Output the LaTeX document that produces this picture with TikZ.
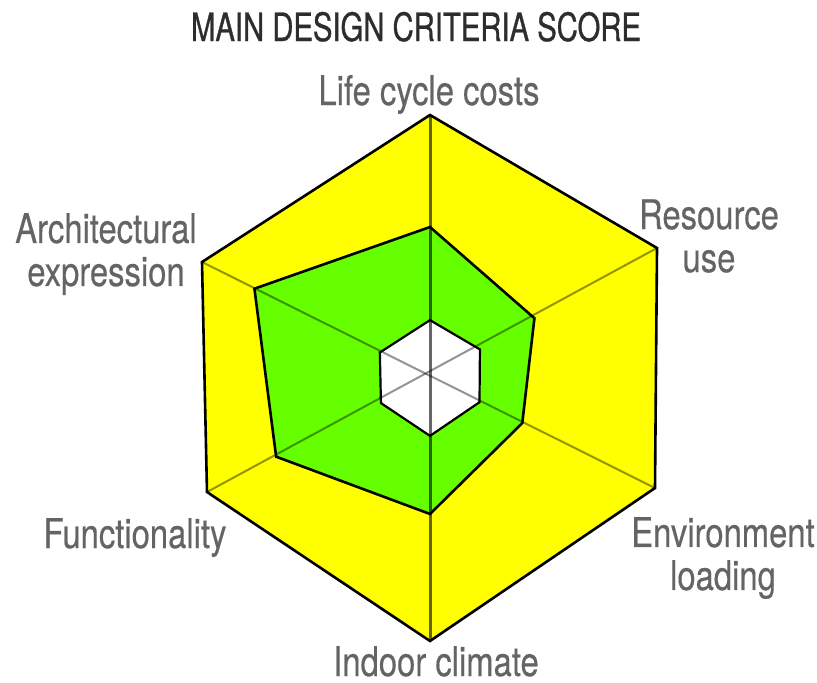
\documentclass[tikz,border=0pt]{standalone}
\usepackage{fontspec}
\setmainfont{TeX Gyre Heros}[FakeStretch=0.8,FakeBold=0.4]
\newfontfamily\titlefont{TeX Gyre Heros}[FakeStretch=0.75,FakeBold=0.8]
\usetikzlibrary{calc}
\definecolor{chartyellow}{RGB}{255,255,0}
\definecolor{chartgreen}{RGB}{102,255,0}
\definecolor{labelgray}{RGB}{100,100,100}
\definecolor{titlegray}{RGB}{45,45,45}

\tikzset{
  crit/.style={text=labelgray, align=center, inner sep=0pt,
    font=\fontsize{20.5}{21.5}\selectfont},
  rim/.style={draw=black, line width=1.3pt, line join=miter},
  spoke/.style={black, opacity=0.42, line width=1pt},
}

\begin{document}
\begin{tikzpicture}[x=0.5pt,y=0.5pt]
  \useasboundingbox (-430,-304) rectangle (387,378);
  \coordinate (c) at (0,0);
  \coordinate (o1) at (0,263);
  \coordinate (o2) at (227,130);
  \coordinate (o3) at (225,-110);
  \coordinate (o4) at (0,-263);
  \coordinate (o5) at (-223,-114);
  \coordinate (o6) at (-228,116);
  % score and inner ring
  \foreach \i/\f in {1/0.574,2/0.46,3/0.41,4/0.517,5/0.69,6/0.77}
    \coordinate (s\i) at ($(c)!\f!(o\i)$);
  \foreach \i in {1,...,6}
    \coordinate (w\i) at ($(c)!0.22!(o\i)$);

  \fill[chartyellow] (o1) -- (o2) -- (o3) -- (o4) -- (o5) -- (o6) -- cycle;
  \fill[chartgreen] (s1) -- (s2) -- (s3) -- (s4) -- (s5) -- (s6) -- cycle;
  \fill[white] (w1) -- (w2) -- (w3) -- (w4) -- (w5) -- (w6) -- cycle;
  \foreach \i/\j in {2/5,3/6}{\draw[spoke] (o\i) -- (o\j);}
  \draw[spoke, opacity=0.6, line width=1.5pt] (o1) -- (o4);
  \draw[rim] (o1) -- (o2) -- (o3) -- (o4) -- (o5) -- (o6) -- cycle;
  \draw[rim] (s1) -- (s2) -- (s3) -- (s4) -- (s5) -- (s6) -- cycle;
  \draw[rim, line width=1.1pt] (w1) -- (w2) -- (w3) -- (w4) -- (w5) -- (w6) -- cycle;

  \node[text=titlegray, inner sep=0pt, anchor=base,
    font=\titlefont\fontsize{19.5}{22}\selectfont]
    (title) at (-14,337) {MAIN DESIGN CRITERIA SCORE};
  \node[crit, anchor=base] (lcc) at (-1,273) {Life cycle costs};
  \node[crit] (res) at (279,142) {Resource\\use};
  \node[crit] (env) at (293,-180) {Environment\\loading};
  \node[crit, anchor=base] (ind) at (6,-298) {Indoor climate};
  \node[crit, anchor=base] (fun) at (-295,-170) {Functionality};
  \node[crit] (arch) at (-324,124) {Architectural\\expression};
\end{tikzpicture}
\end{document}
